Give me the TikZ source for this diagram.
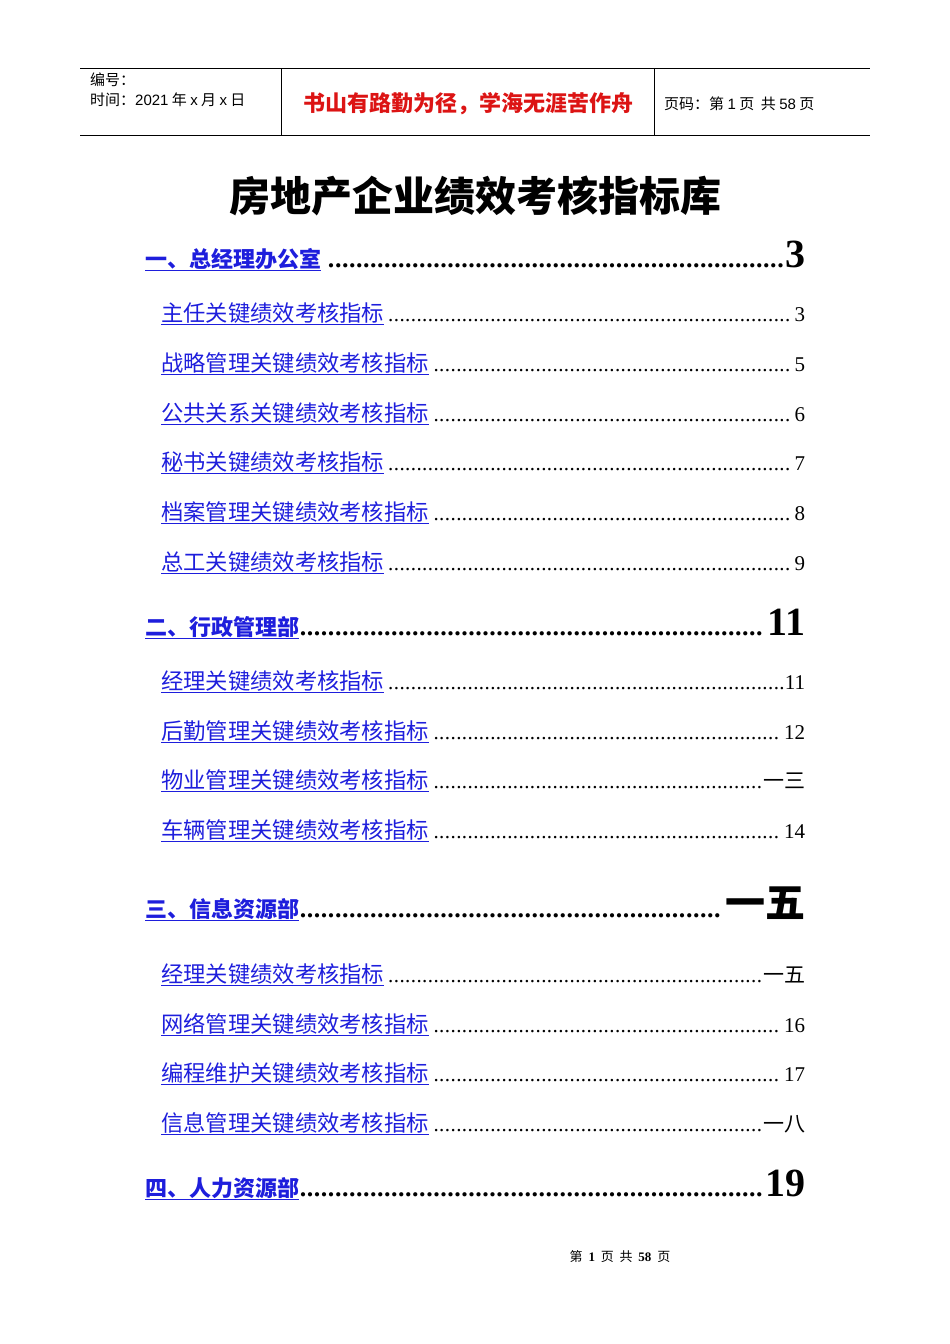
\documentclass[tikz,border=0pt]{standalone}
\usepackage{fontspec}
\setmainfont{Liberation Serif}
\newfontfamily\cjk{Noto Sans CJK SC}
\newfontfamily\hsans{Liberation Sans}
\definecolor{lnk}{RGB}{30,30,220}
\definecolor{hred}{RGB}{220,20,20}
\newcommand\myfill{\leaders\hbox to 0.27em{\hss.\hss}\hfill}
\newcommand\tocA[4]{\node[anchor=base west,text width=660pt,inner sep=0,align=left] (#1) at (145,-#2) {\fontsize{22}{24}\selectfont\bfseries\textcolor{lnk}{\underline{\cjk #3}}\fontsize{26}{28}\selectfont\myfill\fontsize{40}{44}\selectfont #4};}
\newcommand\tocB[4]{\node[anchor=base west,text width=644pt,inner sep=0,align=left] (#1) at (161,-#2) {\fontsize{22.3}{24}\selectfont\textcolor{lnk}{\underline{\cjk #3}}\fontsize{21}{24}\selectfont\myfill #4};}
\begin{document}
\begin{tikzpicture}[x=1pt,y=1pt]
\useasboundingbox (0,0) rectangle (950,-1344);
\draw[line width=0.8] (80,-68) -- (870,-68) (80,-135) -- (870,-135) (281,-68) -- (281,-135) (654,-68) -- (654,-135);
\node[anchor=base west,inner sep=0] (h1) at (90,-85) {\fontsize{15}{17}\selectfont\hsans\cjk 编号：};
\node[anchor=base west,inner sep=0] (h2) at (90,-105) {\fontsize{15}{17}\selectfont\cjk 时间：{\hsans 2021} 年 {\hsans x} 月 {\hsans x} 日};
\node[anchor=base,inner sep=0,text=hred] (h3) at (468,-111) {\fontsize{22}{24}\selectfont\bfseries\cjk 书山有路勤为径，学海无涯苦作舟};
\node[anchor=base west,inner sep=0] (h4) at (664,-109) {\fontsize{15}{17}\selectfont\cjk 页码：第 {\hsans 1} 页\ \ 共 {\hsans 58} 页};
\node[anchor=base,inner sep=0] (title) at (475,-211) {\fontsize{41}{44}\selectfont\bfseries\cjk 房地产企业绩效考核指标库};
\tocA{a1}{267}{一、总经理办公室}{3}
\tocB{b1}{321}{主任关键绩效考核指标}{3}
\tocB{b2}{371}{战略管理关键绩效考核指标}{5}
\tocB{b3}{421}{公共关系关键绩效考核指标}{6}
\tocB{b4}{470}{秘书关键绩效考核指标}{7}
\tocB{b5}{520}{档案管理关键绩效考核指标}{8}
\tocB{b6}{570}{总工关键绩效考核指标}{9}
\tocA{a2}{635}{二、行政管理部}{11}
\tocB{c1}{689}{经理关键绩效考核指标}{11}
\tocB{c2}{739}{后勤管理关键绩效考核指标}{12}
\tocB{c3}{788}{物业管理关键绩效考核指标}{{\cjk 一三}}
\tocB{c4}{838}{车辆管理关键绩效考核指标}{14}
\tocA{a3}{917}{三、信息资源部}{{\cjk 一五}}
\tocB{d1}{982}{经理关键绩效考核指标}{{\cjk 一五}}
\tocB{d2}{1032}{网络管理关键绩效考核指标}{16}
\tocB{d3}{1081}{编程维护关键绩效考核指标}{17}
\tocB{d4}{1131}{信息管理关键绩效考核指标}{{\cjk 一八}}
\tocA{a4}{1196}{四、人力资源部}{19}
\node[anchor=base,inner sep=0] (foot) at (620,-1261) {\fontsize{13}{15}\selectfont\cjk 第\ \ {\rmfamily\bfseries 1}\ \ 页\ \ 共\ \ {\rmfamily\bfseries 58}\ \ 页};
\end{tikzpicture}
\end{document}
